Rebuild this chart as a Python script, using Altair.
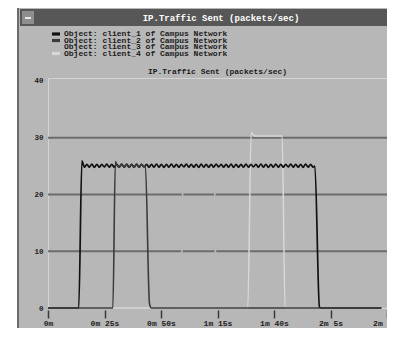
import altair as alt
import pandas as pd

# ---------------- data ----------------
series_names = [
    "Object: client_1 of Campus Network",
    "Object: client_2 of Campus Network",
    "Object: client_3 of Campus Network",
    "Object: client_4 of Campus Network",
]
series_colors = ["#111111", "#3c3c3c", "#b7b7b7", "#d8d8d8"]

SAMPLE_STEP = 1.1  # seconds between statistic samples

# client_1
c1_head_t = [0.0, 13.6, 15.0]
c1_head_v = [0.0, 0.0, 25.9]
c1_wave_t0 = 16.1
c1_wave_v = [
    24.8, 25.3, 24.8, 25.35, 24.75, 25.3, 24.8, 25.3, 24.85, 25.35,
    24.8, 25.3, 24.8, 25.3, 24.8, 25.35, 24.8, 25.3, 24.75, 25.3,
    24.8, 25.35, 24.8, 25.3, 24.85, 25.3, 24.8, 25.3, 24.8, 25.35,
    24.8, 25.3, 24.75, 25.3, 24.8, 25.35, 24.8, 25.3, 24.8, 25.3,
    24.85, 25.35, 24.8, 25.3, 24.8, 25.3, 24.75, 25.35, 24.8, 25.3,
    24.8, 25.3, 24.8, 25.35, 24.85, 25.3, 24.8, 25.3, 24.8, 25.35,
    24.75, 25.3, 24.8, 25.3, 24.8, 25.35, 24.8, 25.3, 24.85, 25.3,
    24.8, 25.35, 24.8, 25.3, 24.75, 25.3, 24.8, 25.35, 24.8, 25.3,
    24.8, 25.3, 24.85, 25.35, 24.8, 25.3, 24.8, 25.3, 24.75, 25.35,
    24.8, 25.3, 24.8,
]
c1_tail_t = [118.1, 120.1, 120.7, 147.5]
c1_tail_v = [25.0, 0.2, 0.0, 0.0]

# client_2
c2_head_t = [0.0, 28.7, 29.8]
c2_head_v = [0.0, 0.0, 25.8]
c2_wave_t0 = 30.4
c2_wave_v = [25.3, 24.8, 25.3, 24.8, 25.35, 24.8, 25.3, 24.8, 25.3, 24.8, 25.3, 24.8]
c2_tail_t = [43.1, 44.9, 45.8, 147.5]
c2_tail_v = [25.0, 0.8, 0.0, 0.0]

# client_3 (drawn in the background colour)
c3_t = [0.0, 58.8, 59.8, 73.6, 74.4, 147.5]
c3_v = [0.0, 0.0, 25.0, 25.0, 0.0, 0.0]

# client_4
c4_t = [0.0, 88.4, 89.9, 91.4, 103.6, 104.9, 147.5]
c4_v = [0.0, 0.0, 30.9, 30.3, 30.3, 0.0, 0.0]

grid_values = [10, 20, 30]
y_tick_values = [0, 10, 20, 30, 40]
x_tick_values = [0, 25, 50, 75, 100, 125, 150]
x_tick_labels = ["0m", "0m 25s", "0m 50s", "1m 15s", "1m 40s", "2m 5s", "2m 30s"]

window_title = "IP.Traffic Sent (packets/sec)"
plot_title = "IP.Traffic Sent (packets/sec)"


def wave_times(t0, vals):
    return [round(t0 + i * SAMPLE_STEP, 2) for i in range(len(vals))]


rows = []
def add(name, ts, vs):
    for t, v in zip(ts, vs):
        rows.append({"series": name, "t": t, "v": v})

add(series_names[0], c1_head_t + wave_times(c1_wave_t0, c1_wave_v) + c1_tail_t,
    c1_head_v + c1_wave_v + c1_tail_v)
add(series_names[1], c2_head_t + wave_times(c2_wave_t0, c2_wave_v) + c2_tail_t,
    c2_head_v + c2_wave_v + c2_tail_v)
add(series_names[2], c3_t, c3_v)
add(series_names[3], c4_t, c4_v)
df = pd.DataFrame(rows)

legend_df = pd.DataFrame({"series": series_names, "row": list(range(len(series_names)))})

# ---------------- encodings ----------------
FONT = "Liberation Mono"
TXT = "#1c1c1c"

label_expr = ""
for val, lab in zip(x_tick_values, x_tick_labels):
    label_expr += f"datum.value == {val} ? '{lab}' : "
label_expr += "''"

x_enc = alt.X(
    "t:Q",
    scale=alt.Scale(domain=[0, 150], nice=False, zero=False),
    axis=alt.Axis(
        values=x_tick_values, labelExpr=label_expr, title=None,
        domain=False, grid=False, tickSize=8, tickWidth=1.5, tickColor="#3a3a3a",
        offset=2, labelPadding=1, labelFlush=False, labelOverlap=False,
        labelFont=FONT, labelFontSize=8, labelFontWeight="bold", labelColor=TXT,
    ),
)
y_enc = alt.Y(
    "v:Q",
    scale=alt.Scale(domain=[0, 40.5], nice=False),
    axis=alt.Axis(
        values=y_tick_values, title=None, domain=False, grid=False, ticks=False,
        labelPadding=5, labelFont=FONT, labelFontSize=7.5, labelFontWeight="bold",
        labelColor=TXT,
    ),
)
color_scale = alt.Scale(domain=series_names, range=series_colors)
color_enc = alt.Color("series:N", scale=color_scale, legend=None)
row_offset = alt.YOffset("row:Q", scale=alt.Scale(domain=[0, 3], range=[0, 19.5]))

one = pd.DataFrame({"d": [0]})

def deco(x, x2, y, y2, color):
    return alt.Chart(one).mark_rect(color=color).encode(
        x=alt.value(x), x2=alt.value(x2), y=alt.value(y), y2=alt.value(y2)
    )

white_strip = deco(-41, -31, -71, 260, "white")
left_edge = deco(-31, -29, -71, 260, "#6c6c6c")
top_edge = deco(-31, 350, -71, -70, "#e2e2e2")
title_bar = deco(-28, 347, -69, -52, "#575757")
button = deco(-26, -14, -67, -54, "#8e8e8e")
button_dash = deco(-23, -17, -61, -59, "#e8e8e8")

grid = alt.Chart(pd.DataFrame({"v": grid_values})).mark_rule(
    color="#6c6c6c", strokeWidth=2
).encode(y=y_enc)

def series_layer(name, width):
    return alt.Chart(df).transform_filter(
        alt.datum.series == name
    ).mark_line(strokeWidth=width, interpolate="monotone").encode(
        x=x_enc, y=y_enc, color=color_enc
    )

l3 = series_layer(series_names[2], 1.8)
l4 = series_layer(series_names[3], 1.5)
l1 = series_layer(series_names[0], 1.7)
l2 = series_layer(series_names[1], 1.6)

legend_swatch = alt.Chart(legend_df).mark_point(
    shape="M-1,-0.4H1V0.4H-1Z", size=64, filled=True, opacity=1
).encode(
    x=alt.value(8), y=alt.value(-44), yOffset=row_offset,
    color=color_enc,
)
legend_text = alt.Chart(legend_df).mark_text(
    font=FONT, fontSize=8, fontWeight="bold", color=TXT, align="left", baseline="middle"
).encode(
    x=alt.value(16), y=alt.value(-44), yOffset=row_offset, text="series:N"
)

win_title = alt.Chart(one).mark_text(
    font=FONT, fontSize=9, fontWeight="bold", color="white", baseline="middle", align="center"
).encode(x=alt.value(173), y=alt.value(-60.5), text=alt.value(window_title))

p_title = alt.Chart(one).mark_text(
    font=FONT, fontSize=8, fontWeight="bold", color=TXT, baseline="middle", align="center"
).encode(x=alt.value(169.5), y=alt.value(-6), text=alt.value(plot_title))

chart = alt.layer(
    white_strip, left_edge, top_edge, title_bar, button, button_dash,
    grid, l3, l4, l1, l2, legend_swatch, legend_text, win_title, p_title,
).properties(
    width=339, height=230,
    padding={"left": 40, "top": 70, "right": 0, "bottom": 20},
    autosize="none",
).configure(
    background="#b7b7b7"
).configure_view(
    stroke="#d4d4d4", strokeWidth=1
)

chart.save("out.html", embed_options={"renderer": "svg", "actions": False})
